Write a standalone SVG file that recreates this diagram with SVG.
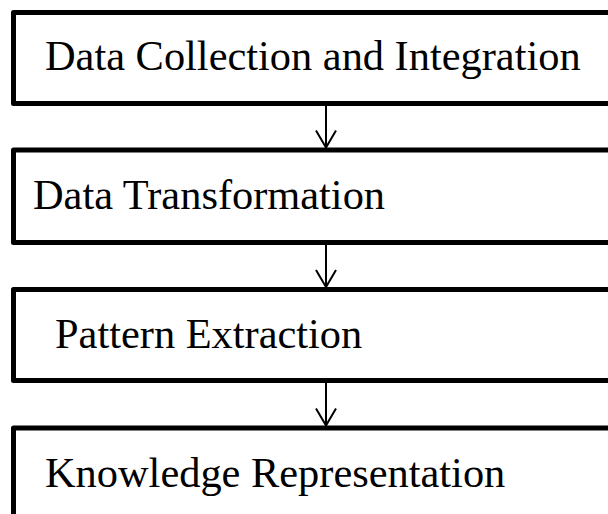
<svg xmlns="http://www.w3.org/2000/svg" width="608" height="514" viewBox="0 0 608 514">
<style>
.box{fill:#fff;stroke:#000;stroke-width:5;stroke-linejoin:round}
.lbl{font-family:"Liberation Serif","Times New Roman",serif;font-size:42.4px;fill:#000}
.conn{stroke:#000;stroke-width:2;fill:none}
</style>
<rect width="608" height="514" fill="#fff"/>
<g id="n1"><rect class="box" x="13.5" y="12.5" width="620" height="91"/><text class="lbl" x="45" y="70">Data Collection and Integration</text></g>
<g id="n2"><rect class="box" x="13.5" y="150" width="620" height="92.5"/><text class="lbl" x="33" y="209">Data Transformation</text></g>
<g id="n3"><rect class="box" x="13.5" y="289.5" width="620" height="91"/><text class="lbl" x="55" y="348">Pattern Extraction</text></g>
<g id="n4"><rect class="box" x="13.5" y="428" width="620" height="120"/><text class="lbl" x="45" y="487">Knowledge Representation</text></g>
<g id="connectors">
<path class="conn" d="M326 106V147.5M316 130.5L326 147.5L336 130.5"/>
<path class="conn" d="M326 245V287M316 270L326 287L336 270"/>
<path class="conn" d="M326 383V425.5M316 408.5L326 425.5L336 408.5"/>
</g>
</svg>
